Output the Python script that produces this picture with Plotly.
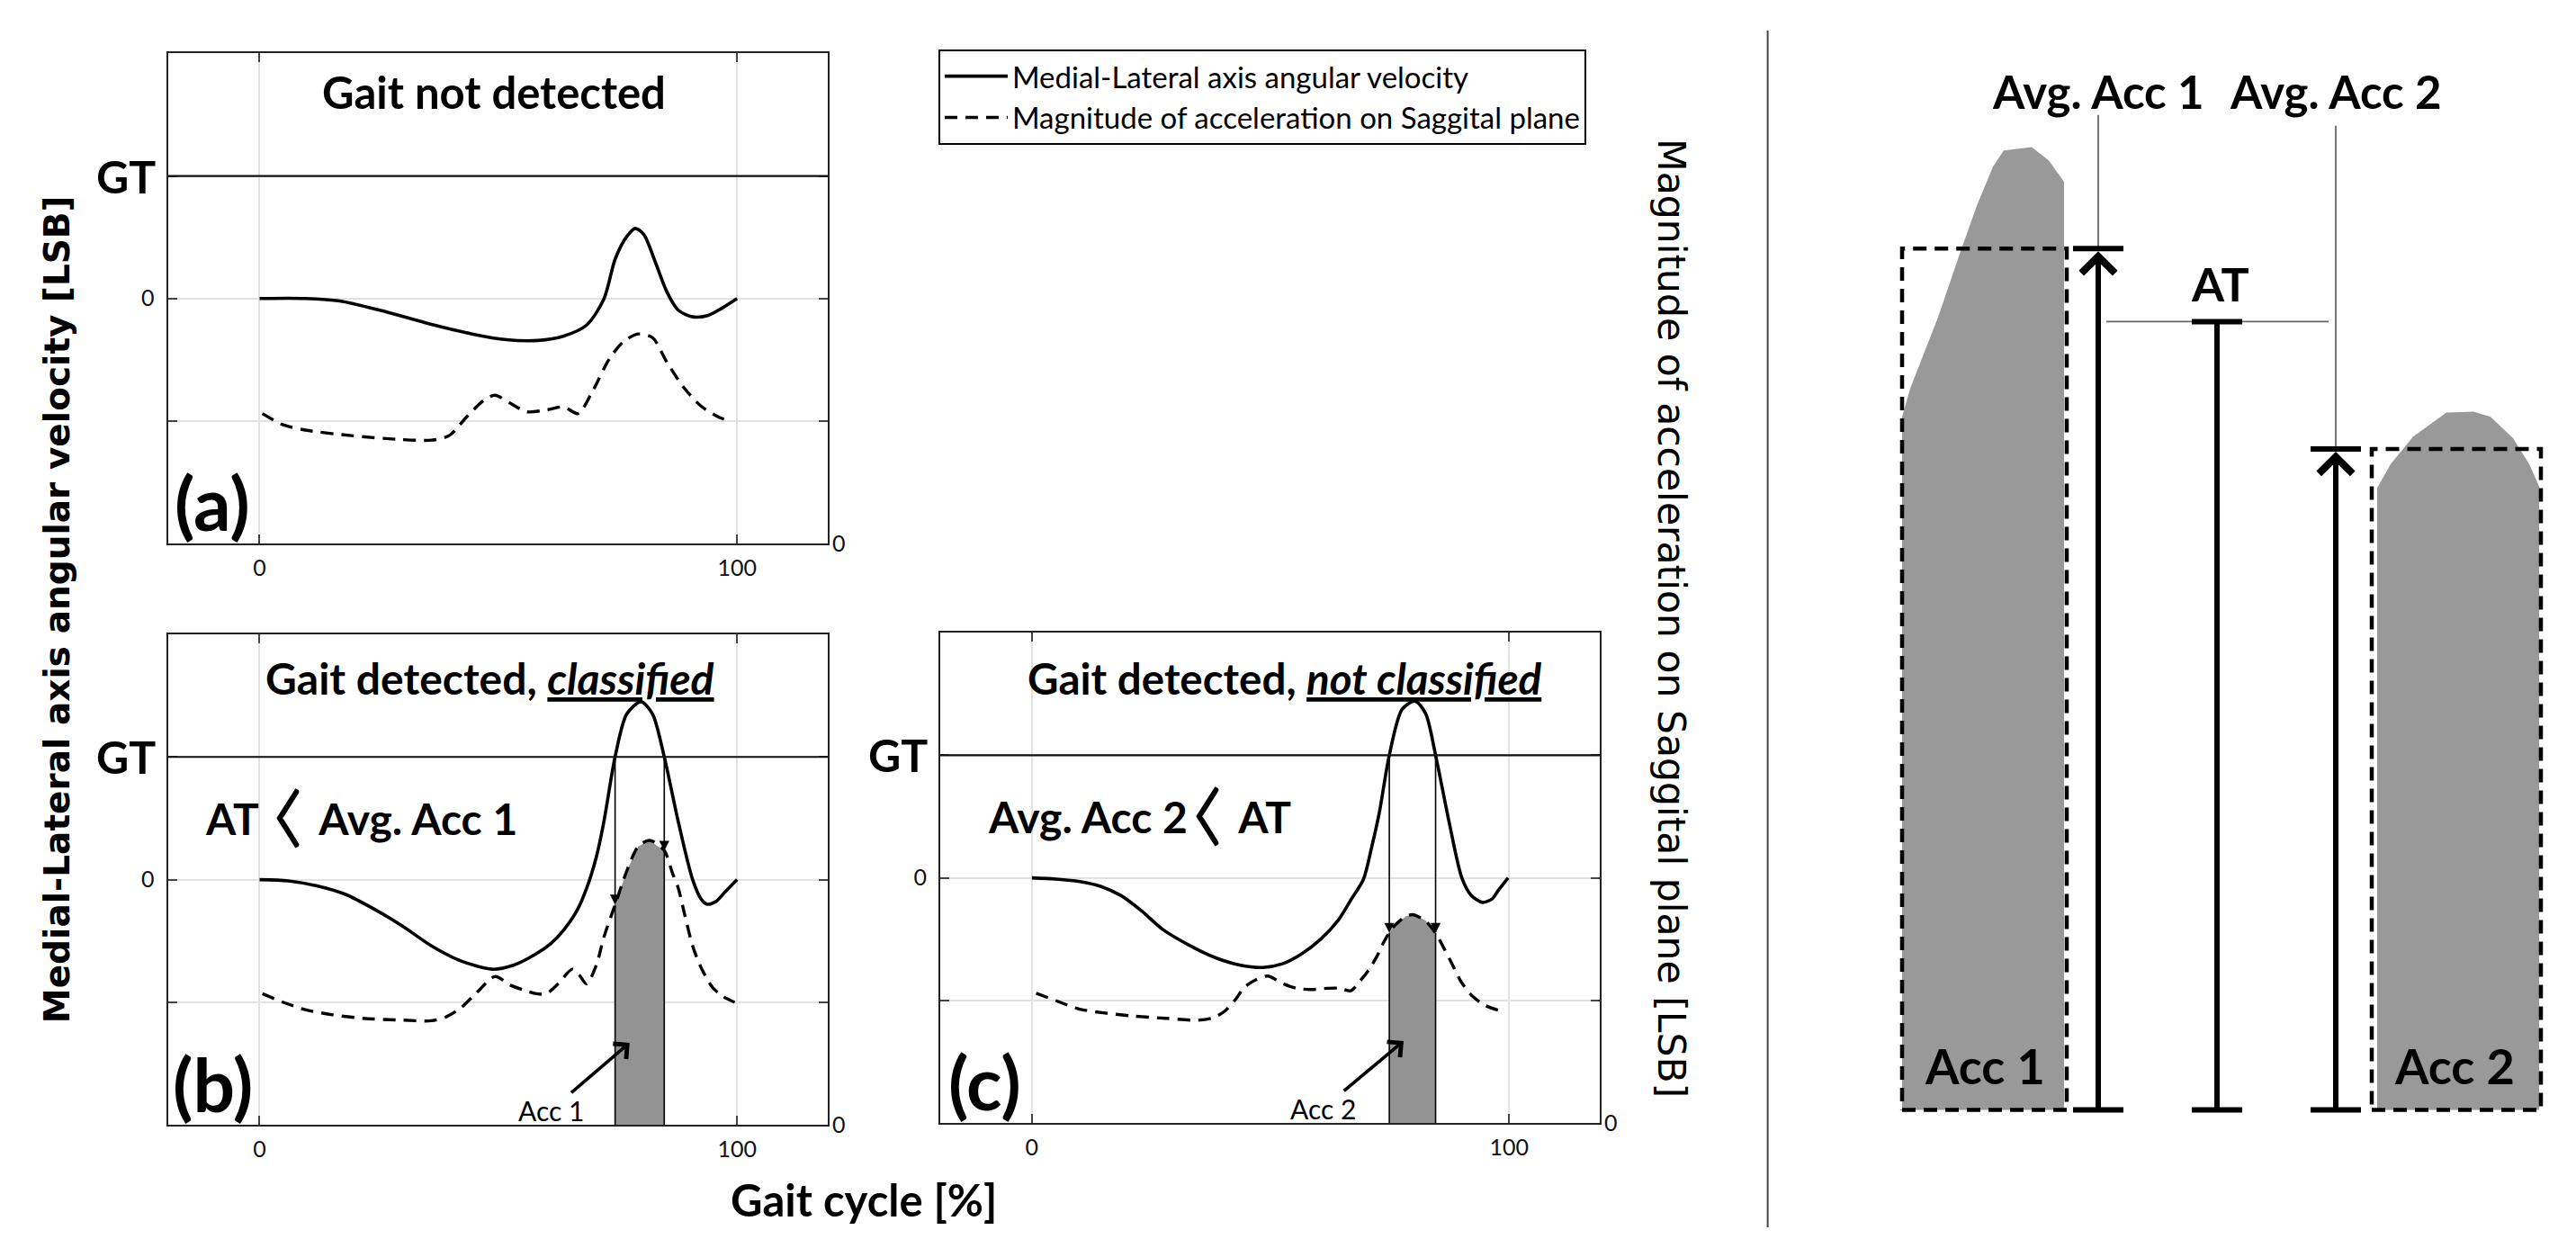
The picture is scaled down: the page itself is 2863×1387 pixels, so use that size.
import numpy as np
import plotly.graph_objects as go

FONT = "Lato"
GRID = "#e2e2e2"
FRAME = "#222222"
TICKC = "#444444"
SHADE = "#939393"

# ---------------- axis scales ----------------
GAIT_RANGE = [-19.2, 119.0]
GAIT_TICKS = [0, 100]
ANG_RANGE = [-2.0, 2.0]
ANG_TICKS = [-1, 0, 1]
ANG_TICKTEXT = ["", "0", ""]
ACC_RANGE = [0.0, 4.0]
ACC_TICKS = [0]
GT = 1.0  # gait threshold

# ---------------- panel (a): gait not detected ----------------
A_GYRO_X = [0, 9.6, 16.8, 25.2, 34.9, 44.5, 51.7, 58.3, 63.7, 68.5, 72.1, 74.5, 76.9, 78.7,
            80.5, 82.9, 85.3, 87.7, 90.7, 93.8, 96.8, 100]
A_GYRO_Y = [0, 0, -0.02, -0.096, -0.2, -0.29, -0.337, -0.343, -0.307, -0.217, -0.006, 0.325,
            0.506, 0.572, 0.52, 0.295, 0.054, -0.096, -0.15, -0.14, -0.08, 0.0]
A_ACC_X = [0.6, 4.8, 9.6, 19.2, 28.8, 36.1, 39.7, 43.3, 46.9, 49.3, 52.3, 55.9, 60.1, 63.7, 66.7,
           69.7, 73.3, 76.3, 79.3, 82.3, 85.3, 88.9, 92.5, 96.2, 98.6]
A_ACC_Y = [1.06, 0.97, 0.925, 0.88, 0.85, 0.843, 0.88, 1.03, 1.166, 1.21, 1.15, 1.075, 1.09,
           1.114, 1.06, 1.24, 1.51, 1.65, 1.71, 1.68, 1.48, 1.27, 1.12, 1.03, 1.0]

# ---------------- panel (b): gait detected, classified ----------------
B_GYRO_X = [0, 6, 12, 18, 24, 30, 36, 42, 48.7, 53, 57.7, 61, 63.7, 66.5, 68.5, 70.5, 72.1, 74.5,
            76.9, 79.9, 82.3, 84.7, 87.7, 90.7, 92.5, 93.7, 95.5, 97.5, 100]
B_GYRO_Y = [0, -0.01, -0.05, -0.12, -0.24, -0.38, -0.54, -0.66, -0.73, -0.70, -0.61, -0.52, -0.41,
            -0.25, -0.07, 0.18, 0.47, 1.01, 1.35, 1.45, 1.35, 1.01, 0.47, 0.0, -0.16, -0.2, -0.18,
            -0.1, 0.0]
B_ACC_X = [0.6, 5, 9.6, 15, 21.6, 30, 36, 39, 42, 45.5, 49.3, 52.5, 55.3, 58, 60, 62.5, 65.5, 67,
           68.5, 70.5, 72.1, 74.5, 76.9, 79.3, 81.7, 84.7, 86.5, 87.7, 89, 90.7, 92.5, 94.9, 97, 99.5]
B_ACC_Y = [1.07, 1.0, 0.94, 0.90, 0.87, 0.855, 0.85, 0.88, 0.95, 1.08, 1.21, 1.14, 1.10, 1.07, 1.07,
           1.15, 1.27, 1.22, 1.15, 1.3, 1.53, 1.8, 2.07, 2.27, 2.32, 2.24, 2.05, 1.93, 1.72, 1.46,
           1.28, 1.12, 1.05, 1.0]

# ---------------- panel (c): gait detected, not classified ----------------
C_GYRO_X = [0, 5, 10, 14.5, 18.7, 23, 27.4, 33, 38.4, 43.5, 48.4, 52.5, 56.5, 60.5, 64.1, 67, 69.5,
            71.2, 72.8, 74.9, 77.6, 80.3, 82.5, 84.6, 87.4, 90.1, 92, 94.4, 96.5, 97.6, 99.8]
C_GYRO_Y = [0, -0.01, -0.03, -0.07, -0.145, -0.27, -0.42, -0.55, -0.65, -0.71, -0.73, -0.70, -0.62,
            -0.50, -0.35, -0.17, -0.01, 0.25, 0.53, 1.0, 1.375, 1.44, 1.34, 1.0, 0.46, 0.0, -0.14,
            -0.2, -0.17, -0.11, 0.0]
C_ACC_X = [0.9, 5, 10, 15, 20.9, 28, 34.9, 38, 40.3, 42.5, 44.6, 47, 49.5, 52.5, 55.4, 58.5, 61.9,
           64.5, 66.8, 68.8, 70.6, 72.3, 73.8, 75.5, 77.1, 78.5, 79.8, 81.2, 82.5, 84.6, 86.3, 87.9,
           90, 92.2, 95, 98.7]
C_ACC_Y = [1.06, 1.0, 0.93, 0.9, 0.875, 0.855, 0.84, 0.86, 0.91, 1.0, 1.11, 1.17, 1.20, 1.14, 1.10,
           1.09, 1.10, 1.10, 1.08, 1.16, 1.25, 1.36, 1.48, 1.59, 1.65, 1.69, 1.70, 1.68, 1.65, 1.55,
           1.43, 1.31, 1.15, 1.04, 0.96, 0.91]

# ---------------- right-hand diagram (average acceleration vs AT) ----------------
DIAG_X_RANGE = [0, 9.07]
DIAG_Y_RANGE = [-1.49, 12.38]
ACC1_PROFILE_X = [1.50, 1.59, 1.90, 2.14, 2.33, 2.51, 2.63, 2.94, 3.13, 3.30]
ACC1_PROFILE_Y = [7.78, 8.10, 8.90, 9.61, 10.15, 10.59, 10.77, 10.81, 10.66, 10.42]
ACC2_PROFILE_X = [6.78, 6.93, 7.18, 7.55, 7.85, 8.04, 8.29, 8.47, 8.58]
ACC2_PROFILE_Y = [6.98, 7.25, 7.56, 7.83, 7.84, 7.78, 7.54, 7.25, 7.00]
AVG_ACC1 = 9.67
AT_LEVEL = 8.85
AVG_ACC2 = 7.42
ACC1_BOX_X = [1.50, 3.33]
ACC2_BOX_X = [6.72, 8.60]
AVG1_X, AT_X, AVG2_X = 3.68, 5.00, 6.32
DIAG_LABEL_Y = 11.44

LEGEND_NAMES = ["Medial-Lateral axis angular velocity", "Magnitude of acceleration on Saggital plane"]


def ang_to_acc(v):
    return ACC_RANGE[0] + (v - ANG_RANGE[0]) / (ANG_RANGE[1] - ANG_RANGE[0]) * (ACC_RANGE[1] - ACC_RANGE[0])


def crossings(xs, ys, level):
    out = []
    for i in range(len(xs) - 1):
        a, b = ys[i] - level, ys[i + 1] - level
        if (a < 0 <= b) or (a >= 0 > b):
            t = (0 - a) / (b - a)
            out.append(xs[i] + t * (xs[i + 1] - xs[i]))
    return out


fig = go.Figure()
annotations = []
shapes = []

CHEV = ('<span style="font-family:Lato;font-weight:300;font-size:172px;'
        'baseline-shift:-26px">‹</span>')
panels = [
    dict(x="x", y="y", ya="y4", gx=A_GYRO_X, gy=A_GYRO_Y, ax_=A_ACC_X, ay_=A_ACC_Y,
         title="Gait not detected", tx=49, ty=1.69, lab="(a)", window=None, tsz=49),
    dict(x="x2", y="y2", ya="y5", gx=B_GYRO_X, gy=B_GYRO_Y, ax_=B_ACC_X, ay_=B_ACC_Y,
         title="Gait detected, <i><u>classified</u></i>", tx=48.3, ty=1.64, lab="(b)", tsz=48,
         window="Acc 1", cmp="AT " + CHEV + " Avg. Acc 1", cx=21.3, accl=(61.0, -1.88, 77.5, -1.33)),
    dict(x="x3", y="y3", ya="y6", gx=C_GYRO_X, gy=C_GYRO_Y, ax_=C_ACC_X, ay_=C_ACC_Y,
         title="Gait detected, <i><u>not classified</u></i>", tx=53, ty=1.63, lab="(c)", tsz=47.5,
         window="Acc 2", cmp="Avg. Acc 2" + CHEV + " AT", cx=22.6, accl=(61.0, -1.88, 77.9, -1.33)),
]

for i, p in enumerate(panels):
    if p["window"]:
        x0, x1 = crossings(p["gx"], p["gy"], GT)[:2]
        inner = [xx for xx in p["ax_"] if x0 < xx < x1]
        xs = [x0] + inner + [x1]
        ys = list(np.interp(xs, p["ax_"], p["ay_"]))
        fig.add_trace(go.Scatter(x=[x0] + xs + [x1], y=[ACC_RANGE[0]] + ys + [ACC_RANGE[0]],
                                 fill="toself", fillcolor=SHADE, line=dict(width=0), mode="lines",
                                 xaxis=p["x"], yaxis=p["ya"], showlegend=False, hoverinfo="skip"))
        fig.add_trace(go.Scatter(x=[x0, x0, None, x1, x1],
                                 y=[ACC_RANGE[0], ys[0], None, ACC_RANGE[0], ys[-1]],
                                 mode="lines", line=dict(color="black", width=1.6),
                                 xaxis=p["x"], yaxis=p["ya"], showlegend=False, hoverinfo="skip"))
        for xc, yv in ((x0, ys[0]), (x1, ys[-1])):
            annotations.append(dict(x=xc, y=yv, xref=p["x"], yref=p["ya"], ax=xc, ay=ang_to_acc(GT),
                                    axref=p["x"], ayref=p["ya"], text="", showarrow=True,
                                    arrowhead=2, arrowsize=1.4, arrowwidth=1.6, arrowcolor="black",
                                    standoff=0))
        tx_, ty_, hx, hy = p["accl"]
        annotations.append(dict(x=hx, y=ang_to_acc(hy), xref=p["x"], yref=p["ya"],
                                ax=tx_, ay=ang_to_acc(ty_), axref=p["x"], ayref=p["ya"],
                                text=p["window"], showarrow=True, arrowhead=4, arrowsize=1.2,
                                arrowwidth=3.6, arrowcolor="black",
                                font=dict(family=FONT, size=30, color="black")))
        annotations.append(dict(x=p["cx"], y=0.66, xref=p["x"], yref=p["y"], text=p["cmp"],
                                showarrow=False, font=dict(family=FONT, size=48, color="black", weight=700)))

    fig.add_trace(go.Scatter(x=p["gx"], y=p["gy"], mode="lines", name=LEGEND_NAMES[0],
                             line=dict(color="black", width=3.6, shape="spline", smoothing=0.8),
                             xaxis=p["x"], yaxis=p["y"], showlegend=(i == 0), legendrank=1,
                             hoverinfo="skip"))
    fig.add_trace(go.Scatter(x=p["ax_"], y=p["ay_"], mode="lines", name=LEGEND_NAMES[1],
                             line=dict(color="black", width=3.4, dash="14px,9px", shape="spline",
                                       smoothing=0.8),
                             xaxis=p["x"], yaxis=p["ya"], showlegend=(i == 0), legendrank=2,
                             hoverinfo="skip"))
    shapes.append(dict(type="line", xref=p["x"] + " domain", yref=p["y"], x0=0, x1=1, y0=GT, y1=GT,
                       line=dict(color="#111111", width=2.2), layer="above"))
    annotations.append(dict(x=0, y=GT, xref=p["x"] + " domain", yref=p["y"], xanchor="right",
                            xshift=-12, text="GT", showarrow=False,
                            font=dict(family=FONT, size=50, color="black", weight=700)))
    annotations.append(dict(x=p["tx"], y=p["ty"], xref=p["x"], yref=p["y"], text=p["title"],
                            showarrow=False, font=dict(family=FONT, size=p["tsz"], color="black", weight=700)))
    annotations.append(dict(x=-9.8, y=-1.66, xref=p["x"], yref=p["y"], text=p["lab"],
                            showarrow=False, font=dict(family=FONT, size=82, color="black", weight=700)))

# ---------------- right-hand diagram traces ----------------
for px_, py_ in ((ACC1_PROFILE_X, ACC1_PROFILE_Y), (ACC2_PROFILE_X, ACC2_PROFILE_Y)):
    fig.add_trace(go.Scatter(x=[px_[0]] + px_ + [px_[-1]], y=[0] + py_ + [0], fill="toself",
                             fillcolor="#999999", line=dict(width=0), mode="lines",
                             xaxis="x7", yaxis="y7", showlegend=False, hoverinfo="skip"))
for bx, lvl in ((ACC1_BOX_X, AVG_ACC1), (ACC2_BOX_X, AVG_ACC2)):
    fig.add_trace(go.Scatter(x=[bx[0], bx[1], bx[1], bx[0], bx[0]], y=[0, 0, lvl, lvl, 0],
                             mode="lines", line=dict(color="black", width=4.5, dash="15px,9px"),
                             xaxis="x7", yaxis="y7", showlegend=False, hoverinfo="skip"))
# thin guide lines
fig.add_trace(go.Scatter(x=[AVG1_X, AVG1_X, None, AVG2_X, AVG2_X, None, AVG1_X + 0.09, AVG2_X - 0.08],
                         y=[AVG_ACC1, DIAG_LABEL_Y - 0.27, None, AVG_ACC2, DIAG_LABEL_Y - 0.39, None,
                            AT_LEVEL, AT_LEVEL],
                         mode="lines", line=dict(color="#666666", width=1.8),
                         xaxis="x7", yaxis="y7", showlegend=False, hoverinfo="skip"))
# AT bar
fig.add_trace(go.Scatter(x=[AT_X, AT_X], y=[0, AT_LEVEL], mode="lines+markers",
                         line=dict(color="black", width=6),
                         marker=dict(symbol="line-ew", size=40, line=dict(color="black", width=6)),
                         xaxis="x7", yaxis="y7", showlegend=False, hoverinfo="skip"))
# bars of the average arrows
fig.add_trace(go.Scatter(x=[AVG1_X, AVG1_X, AVG2_X, AVG2_X], y=[0, AVG_ACC1, 0, AVG_ACC2], mode="markers",
                         marker=dict(symbol="line-ew", size=40, line=dict(color="black", width=6)),
                         xaxis="x7", yaxis="y7", showlegend=False, hoverinfo="skip"))
for xx, lvl in ((AVG1_X, AVG_ACC1), (AVG2_X, AVG_ACC2)):
    annotations.append(dict(x=xx, y=lvl, xref="x7", yref="y7", ax=xx, ay=0, axref="x7", ayref="y7",
                            text="", showarrow=True, arrowhead=4, arrowsize=1.2, arrowwidth=6,
                            arrowcolor="black", standoff=3))
for txt, xx, yy, sz in (("Avg. Acc 1", AVG1_X, DIAG_LABEL_Y, 51), ("Avg. Acc 2", AVG2_X, DIAG_LABEL_Y, 51),
                        ("AT", AT_X + 0.03, AT_LEVEL + 0.43, 52), ("Acc 1", 2.42, 0.5, 54),
                        ("Acc 2", 7.64, 0.5, 54)):
    annotations.append(dict(x=xx, y=yy, xref="x7", yref="y7", text=txt, showarrow=False,
                            font=dict(family=FONT, size=sz, color="black", weight=700)))

# separator line
shapes.append(dict(type="line", xref="x7 domain", yref="paper", x0=0.0007, x1=0.0007, y0=0.0123, y1=0.981,
                   line=dict(color="#444444", width=2)))

# axis titles
annotations += [
    dict(x=0.0192, y=0.5126, xref="paper", yref="paper", xanchor="center", yanchor="middle",
         text="Medial-Lateral axis angular velocity [LSB]",
         textangle=-90, showarrow=False, font=dict(family="DejaVu Sans", size=39, color="black", weight=700)),
    dict(x=0.3325, y=0.0353, xref="paper", yref="paper", xanchor="center", yanchor="middle",
         text="Gait cycle [%]", showarrow=False,
         font=dict(family=FONT, size=49, color="black", weight=700)),
    dict(x=0.6462, y=0.5054, xref="paper", yref="paper", xanchor="center", yanchor="middle",
         text="Magnitude of acceleration on Saggital plane [LSB]",
         textangle=90, showarrow=False, font=dict(family="DejaVu Sans", size=42.5, color="black")),
]

tickfont = dict(family=FONT, size=25, color="#111111")


def gait_x(domain, anchor):
    return dict(domain=domain, anchor=anchor, range=GAIT_RANGE, tickvals=GAIT_TICKS, showgrid=True,
                gridcolor=GRID, gridwidth=2, zeroline=False, showline=True, linecolor=FRAME, linewidth=2,
                mirror="ticks", ticks="inside", ticklen=10, tickwidth=2, tickcolor=TICKC,
                tickfont=tickfont, ticklabelstandoff=4, fixedrange=True)


def ang_y(domain, anchor):
    return dict(domain=domain, anchor=anchor, range=ANG_RANGE, tickvals=ANG_TICKS, ticktext=ANG_TICKTEXT,
                showgrid=True, gridcolor=GRID, gridwidth=2, zeroline=False, showline=True, linecolor=FRAME,
                linewidth=2, mirror="ticks", ticks="inside", ticklen=10, tickwidth=2, tickcolor=TICKC,
                tickfont=tickfont, ticklabelstandoff=8, fixedrange=True)


def acc_y(overlay, anchor):
    return dict(overlaying=overlay, anchor=anchor, side="right", range=ACC_RANGE, tickvals=ACC_TICKS,
                showgrid=False, zeroline=False, showline=False, ticks="", tickfont=tickfont,
                ticklabelstandoff=4, fixedrange=True)


XA = [0.06238, 0.31855]
XC = [0.36221, 0.61823]
fig.update_layout(
    width=2863, height=1387, margin=dict(l=0, r=0, t=0, b=0),
    paper_bgcolor="white", plot_bgcolor="white",
    font=dict(family=FONT, color="black"),
    xaxis=gait_x(XA, "y"), yaxis=ang_y([0.56597, 0.96251], "x"),
    xaxis2=gait_x(XA, "y2"), yaxis2=ang_y([0.09517, 0.49243], "x2"),
    xaxis3=gait_x(XC, "y3"), yaxis3=ang_y([0.09661, 0.49387], "x3"),
    yaxis4=acc_y("y", "x"), yaxis5=acc_y("y2", "x2"), yaxis6=acc_y("y3", "x3"),
    xaxis7=dict(domain=[0.6832, 1.0], anchor="y7", range=DIAG_X_RANGE, visible=False, fixedrange=True),
    yaxis7=dict(domain=[0, 1], anchor="x7", range=DIAG_Y_RANGE, visible=False, fixedrange=True),
    showlegend=True,
    legend=dict(x=0.3615, y=0.966, xanchor="left", yanchor="top", bgcolor="white", bordercolor="black",
                borderwidth=2, font=dict(family=FONT, size=33, color="black"), itemwidth=70,
                traceorder="normal"),
    annotations=annotations, shapes=shapes,
)

fig.write_html("out.html")
